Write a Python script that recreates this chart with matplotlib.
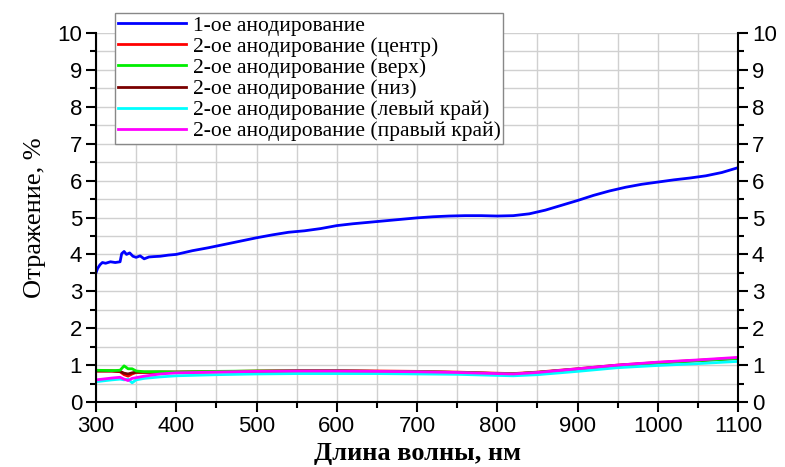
import matplotlib
matplotlib.use("Agg")
import matplotlib.pyplot as plt
from matplotlib.ticker import MultipleLocator

# ---- data ----
x_blue = [300, 302, 305, 308, 312, 318, 324, 330, 332, 335, 338, 342, 346, 350, 355, 360, 366, 372, 380, 390,
          400, 420, 440, 460, 480, 500, 520, 540, 560, 580, 600, 620, 640, 660, 680, 700, 720, 740, 760,
          780, 800, 820, 840, 860, 880, 900, 920, 940, 960, 980, 1000, 1020, 1040, 1060, 1080, 1100]
y_blue = [3.5, 3.62, 3.72, 3.78, 3.76, 3.8, 3.78, 3.8, 4.02, 4.08, 4.0, 4.04, 3.95, 3.92, 3.96, 3.88, 3.93, 3.94, 3.95, 3.98,
          4.0, 4.1, 4.18, 4.27, 4.36, 4.45, 4.53, 4.6, 4.64, 4.7, 4.78, 4.83, 4.87, 4.91, 4.95, 4.99, 5.02, 5.04, 5.05,
          5.05, 5.04, 5.05, 5.1, 5.2, 5.33, 5.46, 5.6, 5.72, 5.82, 5.9, 5.96, 6.02, 6.07, 6.13, 6.22, 6.35]

x_low = [300, 320, 330, 335, 340, 345, 350, 360, 380, 400, 450, 500, 550, 600, 650, 700, 750, 800, 820, 850,
         900, 950, 1000, 1050, 1100]
y_red = [0.84, 0.84, 0.82, 0.74, 0.7, 0.76, 0.8, 0.8, 0.81, 0.81, 0.82, 0.84, 0.85, 0.85, 0.84, 0.83, 0.81, 0.78, 0.77, 0.81,
         0.9, 1.0, 1.07, 1.13, 1.19]
y_green = [0.86, 0.85, 0.86, 0.98, 0.9, 0.9, 0.84, 0.82, 0.82, 0.81, 0.83, 0.84, 0.84, 0.84, 0.83, 0.82, 0.8, 0.77, 0.76, 0.8,
           0.89, 0.99, 1.06, 1.12, 1.18]
y_brown = [0.84, 0.84, 0.83, 0.78, 0.76, 0.79, 0.81, 0.81, 0.81, 0.81, 0.82, 0.83, 0.84, 0.84, 0.83, 0.82, 0.8, 0.77, 0.76, 0.8,
           0.89, 0.99, 1.06, 1.12, 1.18]
y_cyan = [0.55, 0.6, 0.62, 0.6, 0.62, 0.52, 0.6, 0.64, 0.68, 0.71, 0.74, 0.76, 0.77, 0.77, 0.77, 0.76, 0.75, 0.72, 0.71, 0.74,
          0.83, 0.93, 0.99, 1.04, 1.1]
y_magenta = [0.6, 0.65, 0.67, 0.62, 0.58, 0.64, 0.66, 0.7, 0.76, 0.79, 0.81, 0.83, 0.84, 0.84, 0.83, 0.82, 0.8, 0.77, 0.76, 0.8,
             0.9, 1.0, 1.08, 1.14, 1.21]

labels = ["1-ое анодирование", "2-ое анодирование (центр)", "2-ое анодирование (верх)",
          "2-ое анодирование (низ)", "2-ое анодирование (левый край)", "2-ое анодирование (правый край)"]
colors = ["#0000ff", "#ff0000", "#00ee00", "#7a0000", "#00ffff", "#ff00ff"]

fig = plt.figure(figsize=(7.85, 4.67), dpi=100)
ax = fig.add_axes([96/785, 65/467, 642/785, 369/467])

series = [(x_blue, y_blue), (x_low, y_red), (x_low, y_brown), (x_low, y_green), (x_low, y_cyan), (x_low, y_magenta)]
order_colors = [colors[0], colors[1], colors[3], colors[2], colors[4], colors[5]]
order_labels = [labels[0], labels[1], labels[3], labels[2], labels[4], labels[5]]
handles = {}
for (xs, ys), c, lab in zip(series, order_colors, order_labels):
    ln, = ax.plot(xs, ys, color=c, lw=2, label=lab)
    handles[lab] = ln
lines = [handles[l] for l in labels]

ax.set_xlim(300, 1100)
ax.set_ylim(0, 10)
ax.xaxis.set_major_locator(MultipleLocator(100))
ax.xaxis.set_minor_locator(MultipleLocator(50))
ax.yaxis.set_major_locator(MultipleLocator(1))
ax.yaxis.set_minor_locator(MultipleLocator(0.5))
ax.grid(True, which="both", color="#d0d0d0", lw=1)
ax.set_axisbelow(True)

ax.spines["top"].set_visible(False)
for s in ["left", "right", "bottom"]:
    ax.spines[s].set_linewidth(1.5)
ax.tick_params(which="both", direction="out", width=1.5, right=True, labelright=True,
               labelsize=16, pad=3)
ax.tick_params(which="major", length=7)
ax.tick_params(which="minor", length=4)
for lab in ax.get_xticklabels() + ax.get_yticklabels():
    lab.set_family("Liberation Sans")

ax.set_xlabel("Длина волны, нм", family="Liberation Serif", fontsize=19, fontweight="bold", labelpad=4)
ax.set_ylabel("Отражение, %", family="Liberation Serif", fontsize=19, labelpad=8)

leg = fig.legend(handles=lines, loc="upper left", bbox_to_anchor=(115/785, 1 - 13/467),
                 prop={"family": "Liberation Serif", "size": 15.5}, frameon=True, fancybox=False,
                 edgecolor="#888888", framealpha=1, borderpad=0.12, labelspacing=0.05,
                 handlelength=3.2, handletextpad=0.3, borderaxespad=0)
leg.get_frame().set_linewidth(1)

fig.savefig("out.png", dpi=100)
